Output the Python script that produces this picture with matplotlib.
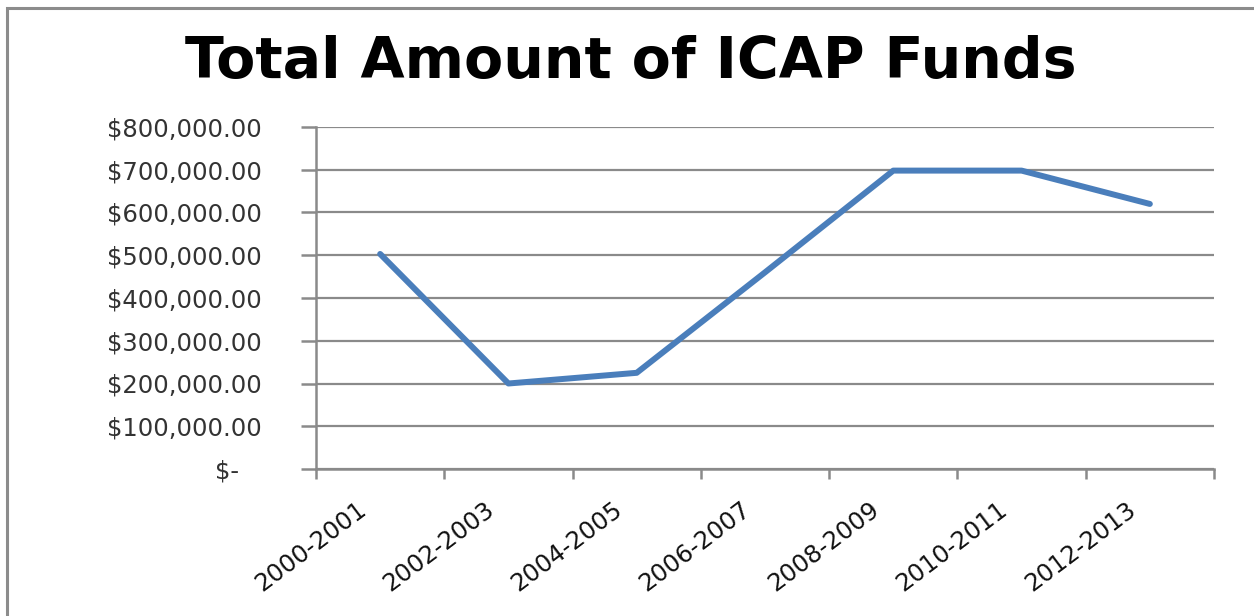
import matplotlib
matplotlib.use("Agg")
import matplotlib.pyplot as plt
import matplotlib.transforms as mtransforms
from matplotlib.patches import Rectangle
from matplotlib.ticker import FuncFormatter, MultipleLocator

categories = ["2000-2001", "2002-2003", "2004-2005", "2006-2007",
              "2008-2009", "2010-2011", "2012-2013"]
funds = [503000, 200000, 225000, 460000, 698000, 698000, 620000]
title = "Total Amount of ICAP Funds"

W, H = 1254, 616
fig = plt.figure(figsize=(W / 100, H / 100), dpi=100)
fig.patch.set_facecolor("white")

# outer chart-area border (partially cropped on right/bottom)
fig.patches.append(Rectangle((7 / W, -0.05), 1.2, 1 - 8 / H + 0.05,
                             transform=fig.transFigure, fill=False,
                             edgecolor="#8c8c8c", linewidth=2.2, zorder=0))

ax = fig.add_axes([316 / W, 1 - 469 / H, (1214 - 316) / W, (469 - 127) / H])
x = list(range(len(categories)))
ax.plot(x, funds, color="#4A7EBB", linewidth=4.3, solid_capstyle="round",
        solid_joinstyle="round", zorder=3)

ax.set_xlim(-0.5, len(categories) - 0.5)
ax.set_ylim(0, 800000)
ax.yaxis.set_major_locator(MultipleLocator(100000))

def money(v, pos):
    if abs(v) < 1:
        return "$-   "
    return "${:,.2f}".format(v)

ax.yaxis.set_major_formatter(FuncFormatter(money))

ax.grid(axis="y", color="#8a8a8a", linewidth=1.6, zorder=1)
ax.set_axisbelow(True)
for s in ("top", "right"):
    ax.spines[s].set_visible(False)
for s in ("left", "bottom"):
    ax.spines[s].set_color("#8a8a8a")
    ax.spines[s].set_linewidth(1.8)

# x ticks at category boundaries, labels at centres
ax.set_xticks([i - 0.5 for i in range(len(categories) + 1)])
ax.set_xticklabels([""] * (len(categories) + 1))
ax.set_xticks(x, minor=True)
ax.set_xticklabels(categories, minor=True, rotation=37, ha="right", va="top",
                   rotation_mode="anchor", fontsize=17.5, color="#111111",
                   family="DejaVu Sans")
ax.tick_params(axis="x", which="major", direction="out", length=7, width=1.8,
               color="#8a8a8a")
ax.tick_params(axis="x", which="minor", length=0, pad=0)
offset = mtransforms.ScaledTranslation(-24 / 100, -28 / 100, fig.dpi_scale_trans)
for lab in ax.get_xticklabels(minor=True):
    lab.set_transform(lab.get_transform() + offset)

ax.tick_params(axis="y", direction="out", length=11, width=1.8,
               color="#8a8a8a", pad=28, labelsize=17.5, labelcolor="#333333")

fig.text(0.503, 1 - 78 / H, title, ha="center", va="baseline",
         fontsize=41, fontweight="bold", color="black", family="DejaVu Sans")

fig.savefig("out.png", dpi=100, facecolor="white")
